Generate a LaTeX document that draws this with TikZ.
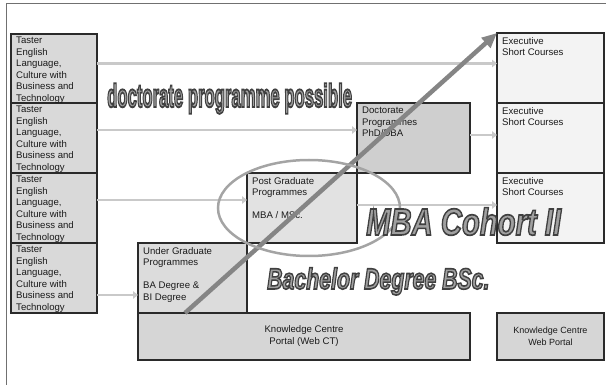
\documentclass[tikz,border=0pt]{standalone}
\usepackage{fontspec}
\setmainfont{Liberation Sans}
\usepackage{graphicx}
\usetikzlibrary{arrows.meta,calc,shapes.geometric}

\definecolor{boxline}{HTML}{2A2A2A}
\definecolor{leftfill}{HTML}{D9D9D9}
\definecolor{execfill}{HTML}{F3F3F3}
\definecolor{docfill}{HTML}{CFCFCF}
\definecolor{pgfill}{HTML}{E2E2E2}
\definecolor{ugfill}{HTML}{DCDCDC}
\definecolor{kcfill}{HTML}{D6D6D6}
\definecolor{connc}{HTML}{C9C9C9}
\definecolor{bigc}{HTML}{858585}
\definecolor{ellc}{HTML}{A4A4A4}
\definecolor{txtc}{HTML}{1A1A1A}
\definecolor{frmc}{HTML}{707070}
\definecolor{wafill}{HTML}{A0A0A0}

\newcommand{\outl}[1]{\special{pdf:literal direct 2 Tr 1.5 w 0.25 0.25 0.25 RG}#1\special{pdf:literal direct 0 Tr}}

\tikzset{
  box/.style={draw=boxline, line width=1.1pt, anchor=north west, inner sep=0pt, outer sep=0pt},
  txt/.style={anchor=north west, inner sep=0pt, align=left, text=txtc,
              font=\fontsize{9.6}{11.5}\selectfont},
  ctxt/.style={inner sep=0pt, align=center, text=txtc,
              font=\fontsize{9.6}{12}\selectfont},
  conn/.style={draw=connc, line width=2.6pt, -{Triangle[length=5pt,width=7.5pt]}},
  bigarrow/.style={draw=bigc, line width=4.5pt, -{Triangle[length=15pt,width=13pt]}},
  ring/.style={draw=ellc, line width=2.5pt, ellipse, inner sep=0pt, outer sep=0pt},
  frame/.style={draw=frmc, line width=1pt},
  wordart/.style={inner sep=0pt, text=wafill, anchor=base west},
}

\begin{document}
\begin{tikzpicture}[x=1pt,y=-1pt]
\useasboundingbox (0,0) rectangle (606,385);

% frame
\coordinate (f1) at (6,386);
\coordinate (f2) at (6,4);
\coordinate (f3) at (607,4);
\draw[frame] (f1) -- (f2) -- (f3);

% left taster boxes
\node[box, fill=leftfill, minimum width=86pt, minimum height=69pt] (t1) at (11,34) {};
\node[box, fill=leftfill, minimum width=86pt, minimum height=70pt] (t2) at (11,103) {};
\node[box, fill=leftfill, minimum width=86pt, minimum height=70pt] (t3) at (11,173) {};
\node[box, fill=leftfill, minimum width=86pt, minimum height=70pt] (t4) at (11,243) {};

\node[txt] (t1x) at (16,37) {Taster\\English\\Language,\\Culture with\\Business and\\Technology};
\node[txt] (t2x) at (16,106) {Taster\\English\\Language,\\Culture with\\Business and\\Technology};
\node[txt] (t3x) at (16,176) {Taster\\English\\Language,\\Culture with\\Business and\\Technology};
\node[txt] (t4x) at (16,246) {Taster\\English\\Language,\\Culture with\\Business and\\Technology};

% executive boxes
\node[box, fill=execfill, minimum width=107pt, minimum height=70pt] (e1) at (497,33) {};
\node[box, fill=execfill, minimum width=107pt, minimum height=70pt] (e2) at (497,103) {};
\node[box, fill=execfill, minimum width=107pt, minimum height=70pt] (e3) at (497,173) {};
\node[txt] (e1x) at (502,37) {Executive\\Short Courses};
\node[txt] (e2x) at (502,107) {Executive\\Short Courses};
\node[txt] (e3x) at (502,177) {Executive\\Short Courses};

% middle boxes
\node[box, fill=docfill, minimum width=113pt, minimum height=70pt] (doc) at (357,103) {};
\node[box, fill=pgfill, minimum width=110pt, minimum height=70pt] (pg) at (247,173) {};
\node[box, fill=ugfill, minimum width=109pt, minimum height=70pt] (ug) at (138,243) {};
\node[box, fill=kcfill, minimum width=332pt, minimum height=47pt] (kc) at (138,313) {};
\node[box, fill=kcfill, minimum width=107pt, minimum height=47pt] (kw) at (497,313) {};

\node[txt] (docx) at (362,107) {Doctorate\\Programmes\\PhD/DBA};
\node[txt] (pgx) at (252,177) {Post Graduate\\Programmes\\[11.5pt]MBA / MSc.};
\node[txt] (ugx) at (143,247) {Under Graduate\\Programmes\\[11.5pt]BA Degree \&\\BI Degree};
\node[ctxt] (kcx) at (kc.center) {Knowledge Centre\\Portal (Web CT)};
\node[ctxt, font=\fontsize{9}{12}\selectfont] (kwx) at (kw.center) {Knowledge Centre\\Web Portal};

% connectors
\draw[conn] ([yshift=5pt]t1.east) -- ([yshift=5pt]t1.east -| e1.west);
\draw[conn] ([yshift=8pt]t2.east) -- ([yshift=8pt]t2.east -| doc.west);
\draw[conn] ([yshift=8pt]t3.east) -- ([yshift=8pt]t3.east -| pg.west);
\draw[conn] ([yshift=-17pt]t4.east) -- ([yshift=-17pt]t4.east -| ug.west);
\draw[conn] ([yshift=3pt]doc.east) -- ([yshift=3pt]doc.east -| e2.west);
\draw[conn] ([yshift=3pt]pg.east) -- ([yshift=3pt]pg.east -| e3.west);

% big diagonal arrow
\coordinate (bs) at (185,313);
\draw[bigarrow] (bs) -- (e1.north west);

% ellipse
\node[ring, minimum width=182pt, minimum height=96pt] (ringnode) at (309,208) {};

% word-art labels
\node[wordart] (docposs) at (107,107) {\fontsize{26}{26}\selectfont\bfseries\scalebox{0.642}[1.26]{\outl{doctorate programme possible}}};
\node[wordart] (mbacoh) at (366,235) {\fontsize{34}{34}\selectfont\bfseries\itshape\scalebox{0.86}[1.11]{\outl{MBA Cohort II}}};
\node[wordart] (bachd) at (267,289) {\fontsize{28}{28}\selectfont\bfseries\itshape\scalebox{0.76}[1.05]{\outl{Bachelor Degree BSc.}}};

\end{tikzpicture}
\end{document}
